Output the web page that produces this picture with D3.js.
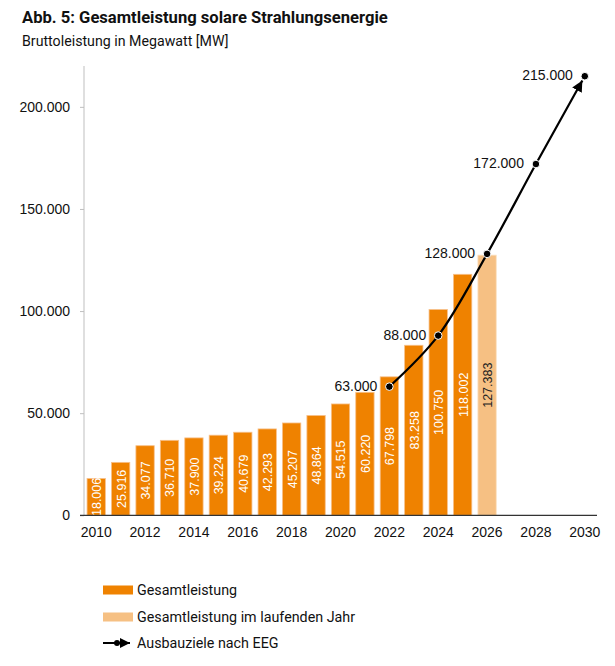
<!DOCTYPE html>
<html>
<head>
<meta charset="utf-8">
<script src="https://cdn.jsdelivr.net/npm/d3@7"></script>
<style>
  body { margin: 0; background: #fff; }
  svg { display: block; }
</style>
</head>
<body>
<svg id="chart" width="615" height="666"></svg>
<script>
const years = d3.range(2010, 2031).map(String);
const barYears = ["2010","2011","2012","2013","2014","2015","2016","2017","2018","2019","2020","2021","2022","2023","2024","2025","2026"];
const barValues = [18006, 25916, 34077, 36710, 37900, 39224, 40679, 42293, 45207, 48864, 54515, 60220, 67798, 83258, 100750, 118002, 127383];
const currentYear = "2026";
const targetYears = ["2022","2024","2026","2028","2030"];
const targetValues = [63000, 88000, 128000, 172000, 215000];
const yTicks = [0, 50000, 100000, 150000, 200000];
const xTickLabels = ["2010","2012","2014","2016","2018","2020","2022","2024","2026","2028","2030"];
const legendLabels = ["Gesamtleistung", "Gesamtleistung im laufenden Jahr", "Ausbauziele nach EEG"];

const title = "Abb. 5: Gesamtleistung solare Strahlungsenergie";
const subtitle = "Bruttoleistung in Megawatt [MW]";

const C_BAR = "#EF8200", C_CUR = "#F6C083";
const fmt = v => d3.format(",")(v).replace(/,/g, ".");
const UI_FONT = "Roboto, 'Noto Sans', sans-serif";
const NUM_FONT = "'Liberation Sans', Arial, sans-serif";

const svg = d3.select("#chart");
const m = {left: 84, right: 597, top: 66, bottom: 515.3};

const x = d3.scaleBand().domain(years).range([m.left, m.right]).paddingInner(0.25).paddingOuter(0.125);
const y = d3.scaleLinear().domain([0, 220000]).range([m.bottom, m.top]);

// titles
svg.append("text").attr("x", 22).attr("y", 23).text(title)
  .attr("font-family", UI_FONT).attr("font-weight", 700).attr("font-size", 16.6).attr("fill", "#111");
svg.append("text").attr("x", 22).attr("y", 46).text(subtitle)
  .attr("font-family", UI_FONT).attr("font-size", 14.2).attr("fill", "#111");

// y axis
const yAxis = svg.append("g").attr("transform", `translate(${m.left},0)`)
  .call(d3.axisLeft(y).tickValues(yTicks).tickSize(4).tickPadding(10).tickFormat(fmt));
yAxis.select(".domain").attr("stroke", "#bfbfbf").attr("d", `M0,${m.top}V${m.bottom}`);
yAxis.selectAll(".tick line").attr("stroke", "#bfbfbf");
yAxis.selectAll("text").attr("font-family", NUM_FONT).attr("font-size", 14).attr("fill", "#111");

// bars
const bars = barYears.map((d, i) => ({year: d, value: barValues[i]}));
svg.append("g").selectAll("rect").data(bars).join("rect")
  .attr("x", d => x(d.year)).attr("width", x.bandwidth())
  .attr("y", d => y(d.value)).attr("height", d => y(0) - y(d.value))
  .attr("fill", d => d.year === currentYear ? C_CUR : C_BAR)
  .attr("stroke", d => d.year === currentYear ? "#fbe0c0" : "#f7c08a").attr("stroke-width", 0.8);

svg.append("g").selectAll("text").data(bars).join("text")
  .attr("transform", d => `translate(${x(d.year) + x.bandwidth()/2 + 0.5},${(y(d.value) + y(0))/2}) rotate(-90)`)
  .attr("text-anchor", "middle").attr("dy", "0.35em")
  .attr("font-family", NUM_FONT).attr("font-size", 12.5)
  .attr("fill", d => d.year === currentYear ? "#222" : "#fff")
  .text(d => fmt(d.value));

// x axis
const xAxis = svg.append("g").attr("transform", `translate(0,${m.bottom})`)
  .call(d3.axisBottom(x).tickValues(xTickLabels).tickSize(0).tickPadding(12));
xAxis.select(".domain").attr("stroke", "#333").attr("stroke-width", 1.2).attr("d", `M${m.left - 4},0H${m.right}`);
xAxis.selectAll("text").attr("font-family", NUM_FONT).attr("font-size", 14).attr("fill", "#111");

// target line
const defs = svg.append("defs");
defs.append("marker").attr("id", "arrow").attr("viewBox", "0 0 10 10")
  .attr("refX", 10).attr("refY", 5).attr("markerWidth", 5).attr("markerHeight", 5)
  .attr("orient", "auto").attr("markerUnits", "strokeWidth")
  .append("path").attr("d", "M0,0L10,5L0,10Z").attr("fill", "#000");

const pts = targetYears.map((d, i) => ({year: d, value: targetValues[i]}));
const cx = d => x(d.year) + x.bandwidth()/2;

// shorten final segment so arrow tip sits just before the last point
const lastP = pts[pts.length - 1], prevP = pts[pts.length - 2];
const dx = cx(lastP) - cx(prevP), dy = y(lastP.value) - y(prevP.value);
const len = Math.hypot(dx, dy);
const pathPts = pts.map(p => [cx(p), y(p.value)]);
pathPts[pathPts.length - 1] = [cx(lastP) - dx / len * 5, y(lastP.value) - dy / len * 5];
const line2 = d3.line().curve(d3.curveCatmullRom.alpha(0.5));
svg.append("path").attr("d", line2(pathPts)).attr("fill", "none")
  .attr("stroke", "#000").attr("stroke-width", 2.2).attr("marker-end", "url(#arrow)");

svg.append("g").selectAll("circle").data(pts).join("circle")
  .attr("cx", cx).attr("cy", d => y(d.value)).attr("r", 3.8)
  .attr("fill", "#000").attr("stroke", "#fff").attr("stroke-width", 1);

svg.append("g").selectAll("text").data(pts).join("text")
  .attr("x", d => cx(d) - 12).attr("y", d => y(d.value)).attr("dy", "0.3em")
  .attr("text-anchor", "end").attr("font-family", NUM_FONT).attr("font-size", 14).attr("fill", "#111")
  .text(d => fmt(d.value));

// legend
const lg = svg.append("g").attr("transform", "translate(103,0)");
const rows = [590, 617, 643];
lg.append("rect").attr("x", 0).attr("y", rows[0] - 4.5).attr("width", 30).attr("height", 9).attr("fill", C_BAR);
lg.append("rect").attr("x", 0).attr("y", rows[1] - 4.5).attr("width", 30).attr("height", 9).attr("fill", C_CUR);
lg.append("line").attr("x1", 0).attr("x2", 27).attr("y1", rows[2]).attr("y2", rows[2])
  .attr("stroke", "#000").attr("stroke-width", 2).attr("marker-end", "url(#arrow)");
lg.append("circle").attr("cx", 14).attr("cy", rows[2]).attr("r", 3).attr("fill", "#000");
lg.selectAll("text.lab").data(legendLabels).join("text").attr("class", "lab")
  .attr("x", 34).attr("y", (d, i) => rows[i]).attr("dy", "0.35em")
  .attr("font-family", UI_FONT).attr("font-size", 14.3).attr("fill", "#111").text(d => d);
</script>
</body>
</html>
